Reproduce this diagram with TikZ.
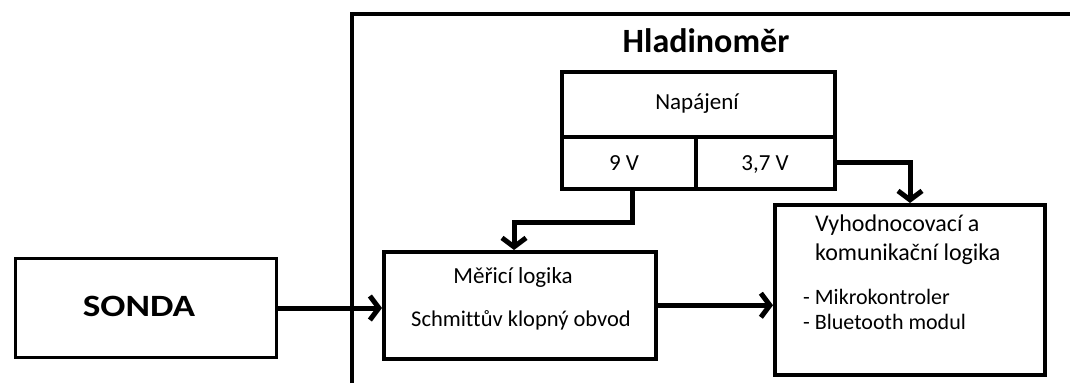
\documentclass[tikz,border=0pt]{standalone}
\usepackage{fontspec}
\usepackage{graphicx}
\setmainfont{Carlito}[Ligatures=CommonOff]
\usetikzlibrary{arrows.meta}
\begin{document}
\begin{tikzpicture}[x=1pt,y=-1pt,
  box/.style={draw=black, line width=3.5pt, rectangle, inner sep=0pt, anchor=north west},
  txt/.style={font=\fontsize{23}{28}\selectfont, inner sep=0pt, anchor=base},
  arr/.style={line width=5pt, -{Straight Barb[length=9pt,width=24pt]}},
]
\useasboundingbox (0,0) rectangle (1070,383);
% outer frame
\draw[line width=3.5pt] (352,383) -- (352,14) -- (1071,14);
\node[txt, font=\bfseries\fontsize{34}{40}\selectfont] (title) at (706,52) {Hladinoměr};
% power supply
\node[box, minimum width=273pt, minimum height=65pt] (nap) at (560,70) {};
\node[txt] (naptxt) at (697,109) {Napájení};
\node[box, minimum width=134pt, minimum height=52pt] (v9) at (560,135) {};
\node[txt] (v9txt) at (624,170) {9 V};
\node[box, minimum width=139pt, minimum height=52pt] (v37) at (694,135) {};
\node[txt] (v37txt) at (765,170) {3,7 V};
% SONDA
\node[box, line width=3pt, minimum width=261pt, minimum height=99pt] (sonda) at (14,257) {};
\node[txt, font=\bfseries\fontsize{31}{36}\selectfont] (sondatxt) at (139,316) {\scalebox{1.2}[1]{SONDA}};
% measuring logic
\node[box, minimum width=272pt, minimum height=107pt] (meric) at (382,250) {};
\node[txt] (merictxt) at (513,283) {Měřicí logika};
\node[txt, font=\fontsize{22.5}{27}\selectfont] (schmitt) at (521,326) {Schmittův klopný obvod};
% evaluation logic
\node[box, line width=4pt, minimum width=270pt, minimum height=170pt] (vyh) at (773,203) {};
\node[txt, anchor=base west, font=\fontsize{24}{28}\selectfont] (vyh1) at (815,231) {Vyhodnocovací a};
\node[txt, anchor=base west, font=\fontsize{24}{28}\selectfont] (vyh2) at (815,260) {komunikační logika};
\node[txt, anchor=base west, font=\fontsize{22}{24}\selectfont] (li1) at (803,304) {- Mikrokontroler};
\node[txt, anchor=base west, font=\fontsize{22}{24}\selectfont] (li2) at (803,329) {- Bluetooth modul};
% connectors
\coordinate (k1) at (514,222);
\draw[arr] ([xshift=4pt]v9.south) |- (k1) -- (k1 |- meric.north);
\draw[arr] (v37.east) -| (vyh.north);
\draw[arr] (sonda.east) -- (sonda.east -| meric.west);
\draw[arr] (meric.east) -- (meric.east -| vyh.west);
\end{tikzpicture}
\end{document}
